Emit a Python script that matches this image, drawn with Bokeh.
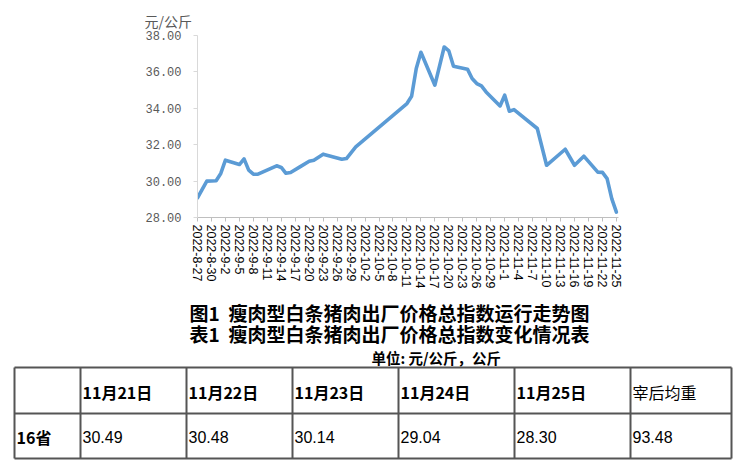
from datetime import datetime
from bokeh.plotting import figure
from bokeh.models import Range1d, FixedTicker, PrintfTickFormatter
from bokeh.core.properties import value
from bokeh.embed import file_html
from bokeh.resources import INLINE

# ---------------- data ----------------
dates = ["2022-08-27", "2022-08-29", "2022-08-31", "2022-09-01", "2022-09-02",
         "2022-09-05", "2022-09-06", "2022-09-07", "2022-09-08", "2022-09-09",
         "2022-09-13", "2022-09-14", "2022-09-15", "2022-09-16", "2022-09-18",
         "2022-09-20", "2022-09-21", "2022-09-23", "2022-09-27", "2022-09-28",
         "2022-09-30", "2022-10-11", "2022-10-12", "2022-10-13", "2022-10-14",
         "2022-10-17", "2022-10-19", "2022-10-20", "2022-10-21", "2022-10-24",
         "2022-10-25", "2022-10-26", "2022-10-27", "2022-10-28", "2022-10-31",
         "2022-11-01", "2022-11-02", "2022-11-03", "2022-11-08", "2022-11-10",
         "2022-11-14", "2022-11-16", "2022-11-18", "2022-11-21", "2022-11-22",
         "2022-11-23", "2022-11-24", "2022-11-25"]
prices = [29.08, 30.00, 30.02, 30.42, 31.15,
          30.91, 31.22, 30.60, 30.38, 30.38,
          30.84, 30.75, 30.43, 30.47, 30.78,
          31.09, 31.15, 31.48, 31.20, 31.24,
          31.88, 34.26, 34.66, 36.19, 37.08,
          35.27, 37.37, 37.15, 36.31, 36.15,
          35.64, 35.36, 35.23, 34.90, 34.13,
          34.72, 33.84, 33.93, 32.89, 30.87,
          31.75, 30.87, 31.37, 30.49, 30.48,
          30.14, 29.04, 28.30]

tick_labels = ["2022-8-27", "2022-8-30", "2022-9-2", "2022-9-5", "2022-9-8",
               "2022-9-11", "2022-9-14", "2022-9-17", "2022-9-20", "2022-9-23",
               "2022-9-26", "2022-9-29", "2022-10-2", "2022-10-5", "2022-10-8",
               "2022-10-11", "2022-10-14", "2022-10-17", "2022-10-20", "2022-10-23",
               "2022-10-26", "2022-10-29", "2022-11-1", "2022-11-4", "2022-11-7",
               "2022-11-10", "2022-11-13", "2022-11-16", "2022-11-19", "2022-11-22",
               "2022-11-25"]
y_ticks = [28, 30, 32, 34, 36, 38]

title1 = "图1\u00a0\u00a0瘦肉型白条猪肉出厂价格总指数运行走势图"
title2 = "表1\u00a0\u00a0瘦肉型白条猪肉出厂价格总指数变化情况表"
unit_text = "单位:\u00a0元/公斤，公斤"
y_unit = "元/公斤"

table_headers = ["", "11月21日", "11月22日", "11月23日", "11月24日", "11月25日", "宰后均重"]
row_label = "16省"
table_values = [30.49, 30.48, 30.14, 29.04, 28.30, 93.48]

# ---------------- chart ----------------
start = datetime.strptime(dates[0], "%Y-%m-%d")
xs = [(datetime.strptime(d, "%Y-%m-%d") - start).days for d in dates]
tick_pos = [(datetime.strptime(t, "%Y-%m-%d") - start).days for t in tick_labels]

p = figure(width=748, height=298, output_backend="svg", toolbar_location=None,
           x_range=Range1d(0, 90.45), y_range=Range1d(28, 38),
           min_border_left=197, min_border_right=130, min_border_top=35, min_border_bottom=81)
p.outline_line_color = None
p.grid.grid_line_color = None
p.background_fill_color = "white"

p.title.text = y_unit
p.title.align = "left"
p.title.offset = -53
p.title.text_font = "Noto Sans CJK SC"
p.title.text_font_style = "normal"
p.title.text_font_size = "14px"
p.title.text_color = "#595959"
p.title.standoff = 9

p.line(xs, prices, line_color="#5b9bd5", line_width=3.6, line_join="round", line_cap="round")

xa = p.xaxis[0]
xa.ticker = FixedTicker(ticks=tick_pos)
xa.major_label_overrides = {tp: lab for tp, lab in zip(tick_pos, tick_labels)}
xa.major_label_orientation = "vertical"
xa.major_label_text_font = "Liberation Sans"
xa.major_label_text_font_size = "12.5px"
xa.major_label_text_color = "#000000"
xa.major_label_standoff = 3
xa.axis_line_color = "#bfbfbf"
xa.major_tick_line_color = "#bfbfbf"
xa.major_tick_in = 0
xa.major_tick_out = 4
xa.minor_tick_line_color = None

ya = p.yaxis[0]
ya.ticker = FixedTicker(ticks=y_ticks)
ya.formatter = PrintfTickFormatter(format="%.2f")
ya.major_label_text_font = "Liberation Mono"
ya.major_label_text_font_size = "12px"
ya.major_label_text_color = "#595959"
ya.major_label_standoff = 12
ya.axis_line_color = "#d9d9d9"
ya.major_tick_line_color = "#d9d9d9"
ya.major_tick_in = 0
ya.major_tick_out = 4
ya.minor_tick_line_color = None

# ---------------- titles + table ----------------
t = figure(width=748, height=164, output_backend="svg", toolbar_location=None,
           x_range=Range1d(0, 748), y_range=Range1d(164, 0),
           min_border=0, min_border_left=0, min_border_right=0, min_border_top=0, min_border_bottom=0)
t.axis.visible = False
t.grid.grid_line_color = None
t.outline_line_color = None

t.text(x=[389, 389], y=[13.7, 34.7], text=[title1, title2],
       text_font=value("Noto Sans CJK SC"), text_font_style="bold", text_font_size="19px",
       text_align="center", text_baseline="middle", text_color="#000000")
t.text(x=[371], y=[59.3], text=[unit_text],
       text_font=value("Noto Sans CJK SC"), text_font_style="bold", text_font_size="14.5px",
       text_align="left", text_baseline="middle", text_color="#000000")

col_x = [14, 80, 186, 292, 398, 514, 630, 731]
row_y = [69, 115, 160]
t.segment(x0=col_x, y0=[row_y[0]] * len(col_x), x1=col_x, y1=[row_y[-1]] * len(col_x),
          line_color="#555555", line_width=2)
t.segment(x0=[col_x[0]] * len(row_y), y0=row_y, x1=[col_x[-1]] * len(row_y), y1=row_y,
          line_color="#555555", line_width=2)

hx = [c + 2 for c in col_x[1:6]]
t.text(x=hx, y=[93.7] * 5, text=table_headers[1:6],
       text_font=value("Noto Sans CJK SC"), text_font_style="bold", text_font_size="16px",
       text_align="left", text_baseline="middle", text_color="#000000")
t.text(x=[col_x[6] + 2], y=[93.7], text=[table_headers[6]],
       text_font=value("Noto Sans CJK SC"), text_font_size="16px",
       text_align="left", text_baseline="middle", text_color="#000000")
t.text(x=[col_x[0] + 2], y=[138.7], text=[row_label],
       text_font=value("Noto Sans CJK SC"), text_font_style="bold", text_font_size="16px",
       text_align="left", text_baseline="middle", text_color="#000000")
vx = [c + 2 for c in col_x[1:7]]
t.text(x=vx, y=[138.7] * 6, text=["%.2f" % v for v in table_values],
       text_font=value("Liberation Sans"), text_font_size="16px",
       text_align="left", text_baseline="middle", text_color="#000000")

open("out.html", "w").write(file_html([p, t], INLINE))
